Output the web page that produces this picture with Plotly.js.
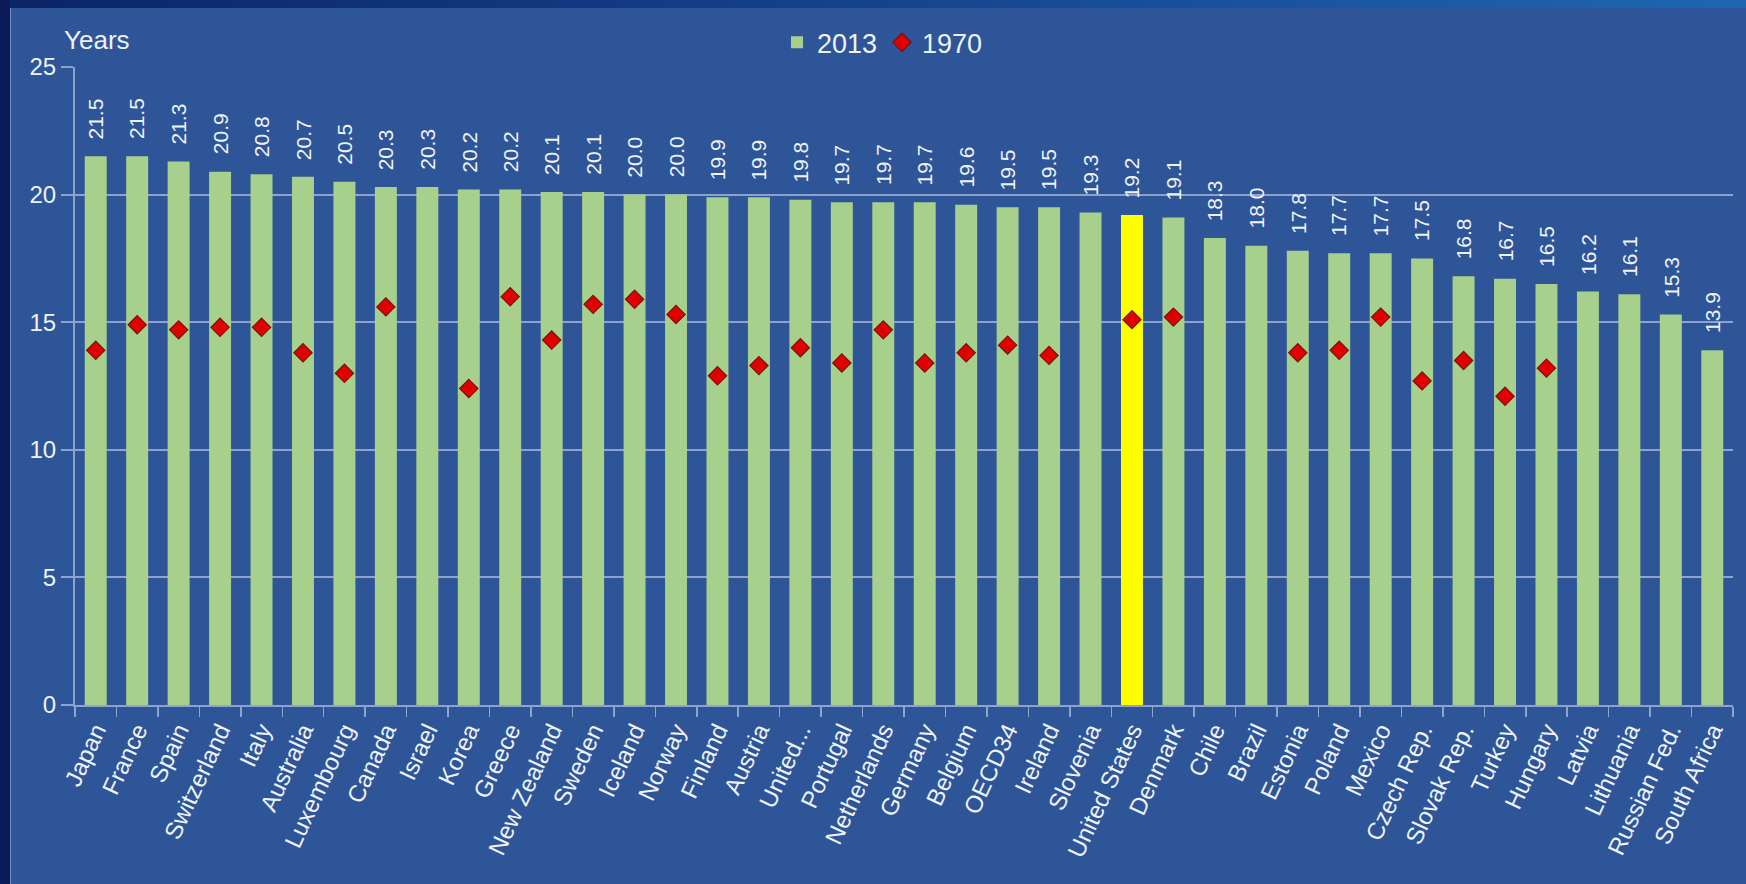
<!DOCTYPE html>
<html>
<head>
<meta charset="utf-8">
<script src="https://cdn.plot.ly/plotly-3.0.1.min.js"></script>
<style>
  html, body { margin: 0; padding: 0; }
  #wrap { position: relative; width: 1746px; height: 884px; background: #2D5597; overflow: hidden; }
  #topstrip { position: absolute; left: 0; top: 0; width: 1746px; height: 8px;
    background: linear-gradient(to right, #0B2466 0%, #14408A 45%, #1F66B2 100%); }
  #leftstrip { position: absolute; left: 0; top: 0; width: 10px; height: 884px; background: #0A1C58; }
  #leftline { position: absolute; left: 10px; top: 8px; width: 1px; height: 876px; background: #6F8DC6; }
  #chart { position: absolute; left: 0; top: 0; width: 1746px; height: 884px; }
</style>
</head>
<body>
<div id="wrap">
  <div id="topstrip"></div>
  <div id="leftstrip"></div>
  <div id="leftline"></div>
  <div id="chart"></div>
</div>
<script>
const countries = ["Japan","France","Spain","Switzerland","Italy","Australia","Luxembourg","Canada","Israel","Korea",
  "Greece","New Zealand","Sweden","Iceland","Norway","Finland","Austria","United...","Portugal","Netherlands",
  "Germany","Belgium","OECD34","Ireland","Slovenia","United States","Denmark","Chile","Brazil","Estonia",
  "Poland","Mexico","Czech Rep.","Slovak Rep.","Turkey","Hungary","Latvia","Lithuania","Russian Fed.","South Africa"];

const values2013 = [21.5,21.5,21.3,20.9,20.8,20.7,20.5,20.3,20.3,20.2,
  20.2,20.1,20.1,20.0,20.0,19.9,19.9,19.8,19.7,19.7,
  19.7,19.6,19.5,19.5,19.3,19.2,19.1,18.3,18.0,17.8,
  17.7,17.7,17.5,16.8,16.7,16.5,16.2,16.1,15.3,13.9];

const values1970 = [13.9,14.9,14.7,14.8,14.8,13.8,13.0,15.6,null,12.4,
  16.0,14.3,15.7,15.9,15.3,12.9,13.3,14.0,13.4,14.7,
  13.4,13.8,14.1,13.7,null,15.1,15.2,null,null,13.8,
  13.9,15.2,12.7,13.5,12.1,13.2,null,null,null,null];

const highlighted = "United States";
const yTicks = [0,5,10,15,20,25];

const textColor = "#EEF2FA";
const gridColor = "#8EA3CC";
const fontFam = "Liberation Sans, Arial, sans-serif";

const barColors = countries.map(c => c === highlighted ? "#FFFF00" : "#A8D08D");

const traces = [
  {
    type: "bar",
    name: "2013",
    x: countries,
    y: values2013,
    marker: { color: barColors, line: { width: 0 } },
    hoverinfo: "x+y"
  },
  {
    type: "scatter",
    mode: "markers",
    name: "1970",
    x: countries,
    y: values1970,
    marker: { symbol: "diamond", size: 14, color: "#E00000", line: { color: "#7A1010", width: 1.2 } },
    hoverinfo: "x+y"
  }
];

const annotations = countries.map((c, i) => ({
  x: c, y: values2013[i], xref: "x", yref: "y",
  text: values2013[i].toFixed(1),
  showarrow: false, textangle: -90,
  xanchor: "center", yanchor: "bottom", yshift: 15,
  font: { family: fontFam, size: 21, color: textColor }
}));
annotations.push({
  xref: "paper", yref: "paper", x: -0.008, y: 1.042,
  xanchor: "left", yanchor: "middle", text: "Years", showarrow: false,
  font: { family: fontFam, size: 26, color: textColor }
});

const layout = {
  width: 1746, height: 884,
  paper_bgcolor: "rgba(0,0,0,0)",
  plot_bgcolor: "rgba(0,0,0,0)",
  margin: { l: 75, r: 13, t: 67, b: 179 },
  font: { family: fontFam, color: textColor },
  bargap: 0.47,
  showlegend: true,
  legend: {
    orientation: "h", x: 0.4234, xanchor: "left", y: 1.038, yanchor: "middle",
    font: { family: fontFam, size: 27, color: textColor },
    bgcolor: "rgba(0,0,0,0)", itemwidth: 30, traceorder: "normal"
  },
  xaxis: {
    type: "category",
    range: [-0.5, countries.length - 0.5],
    autorange: false,
    tickangle: -65,
    tickfont: { family: fontFam, size: 24, color: textColor },
    showline: true, linecolor: gridColor, linewidth: 2,
    ticks: "outside", ticklen: 10, tickcolor: gridColor, tickwidth: 1.5,
    tickson: "boundaries",
    showgrid: false, automargin: false
  },
  yaxis: {
    range: [0, 25],
    autorange: false,
    tickvals: yTicks,
    ticktext: yTicks.map(String),
    tickfont: { family: fontFam, size: 24, color: textColor },
    showline: true, linecolor: gridColor, linewidth: 2,
    ticks: "outside", ticklen: 12, tickcolor: gridColor, tickwidth: 2,
    showgrid: true, gridcolor: gridColor, gridwidth: 2,
    zeroline: false, automargin: false
  },
  annotations: annotations
};

Plotly.newPlot("chart", traces, layout, { displayModeBar: false, staticPlot: true });
</script>
</body>
</html>
